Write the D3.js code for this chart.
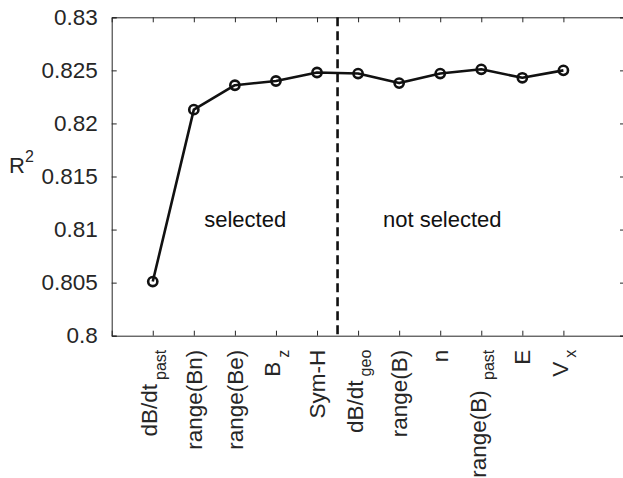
<!DOCTYPE html>
<html>
<head>
<meta charset="utf-8">
<script src="https://cdn.jsdelivr.net/npm/d3@7/dist/d3.min.js"></script>
<style>
  html, body { margin: 0; padding: 0; background: #fff; }
  svg { display: block; }
  text { font-family: "Liberation Sans", Arial, Helvetica, sans-serif; }
</style>
</head>
<body>
<svg id="chart" width="623" height="478"></svg>
<script>
// Feature names (main text + subscript) in the order they were added
const featureNames = ["dB/dt", "range(Bn)", "range(Be)", "B", "Sym-H", "dB/dt", "range(B)", "n", "range(B) ", "E", "V"];
const featureSubs  = ["past", "", "", "z", "", "geo", "", "", "past", "", "x"];

// R² after adding each feature
const r2Values = [0.8051, 0.8213, 0.8236, 0.8240, 0.8248, 0.8247, 0.8238, 0.8247, 0.8251, 0.8243, 0.8250];

// y-axis ticks
const yTickValues = [0.8, 0.805, 0.81, 0.815, 0.82, 0.825, 0.83];
const yTickLabels = ["0.8", "0.805", "0.81", "0.815", "0.82", "0.825", "0.83"];

// number of features kept by the selection
const nSelected = 5;
const groupLabels = ["selected", "not selected"];

const svg = d3.select("#chart");
const plotL = 111.7, plotR = 625, plotT = 17.3, plotB = 335.7;

const x = d3.scaleLinear().domain([0, 12.5]).range([plotL, plotR]);
const y = d3.scaleLinear().domain([0.8, 0.83]).range([plotB, plotT]);
const idx = d3.range(1, featureNames.length + 1);

const axisColor = "#262626";
const fontStack = "Liberation Sans, Arial, sans-serif";

// box axes with inward ticks
const gLeft = svg.append("g").attr("transform", `translate(${plotL},0)`)
  .call(d3.axisLeft(y).tickValues(yTickValues).tickFormat((d, i) => yTickLabels[i]).tickSize(-5).tickPadding(14));
const gRight = svg.append("g").attr("transform", `translate(${plotR},0)`)
  .call(d3.axisRight(y).tickValues(yTickValues).tickFormat("").tickSize(-5));
const gTop = svg.append("g").attr("transform", `translate(0,${plotT})`)
  .call(d3.axisTop(x).tickValues(idx).tickFormat("").tickSize(-5));
const gBottom = svg.append("g").attr("transform", `translate(0,${plotB})`)
  .call(d3.axisBottom(x).tickValues(idx).tickFormat("").tickSize(-5));

[gLeft, gRight, gTop, gBottom].forEach(g => {
  g.selectAll("path.domain").attr("stroke", axisColor).attr("stroke-width", 1);
  g.selectAll(".tick line").attr("stroke", axisColor).attr("stroke-width", 1);
});
gLeft.selectAll(".tick text")
  .attr("font-size", 22.5).attr("fill", axisColor)
  .attr("font-family", fontStack);

// rotated feature labels with subscripts
gBottom.selectAll(".tick").each(function (d, i) {
  const hasSub = featureSubs[i] !== "";
  const t = d3.select(this).append("text")
    .attr("transform", "rotate(-90)")
    .attr("x", -14)
    .attr("y", hasSub ? 4 : 7.5)
    .attr("text-anchor", "end")
    .attr("fill", axisColor)
    .attr("font-size", 22.5)
    .attr("font-family", fontStack)
    .style("white-space", "pre");
  t.append("tspan").text(featureNames[i]);
  if (hasSub) {
    t.append("tspan").attr("dx", 4).attr("dy", 8.5).attr("font-size", 16).text(featureSubs[i]);
  }
});

// y-axis title R²
const yt = svg.append("text").attr("x", 9).attr("y", 173)
  .attr("font-size", 22).attr("fill", axisColor).attr("font-family", fontStack);
yt.append("tspan").text("R");
yt.append("tspan").attr("dy", -11).attr("font-size", 16).text("2");

// divider between selected and not-selected features
svg.append("line")
  .attr("x1", x(nSelected + 0.5)).attr("x2", x(nSelected + 0.5))
  .attr("y1", plotT).attr("y2", plotB)
  .attr("stroke", "#111").attr("stroke-width", 2.6)
  .attr("stroke-dasharray", "9,5");

// R² curve
const line = d3.line().x((d, i) => x(i + 1)).y(d => y(d));
svg.append("path").datum(r2Values)
  .attr("d", line).attr("fill", "none")
  .attr("stroke", "#111").attr("stroke-width", 2.6).attr("stroke-linejoin", "round");

svg.selectAll("circle.pt").data(r2Values).join("circle")
  .attr("class", "pt")
  .attr("cx", (d, i) => x(i + 1)).attr("cy", d => y(d))
  .attr("r", 4.6).attr("fill", "none")
  .attr("stroke", "#111").attr("stroke-width", 2.6);

// group annotations
svg.append("text").attr("x", x((1 + nSelected) / 2 + 0.25)).attr("y", y(0.8102))
  .attr("text-anchor", "middle").attr("font-size", 22).attr("fill", "#111")
  .attr("font-family", fontStack)
  .text(groupLabels[0]);
svg.append("text").attr("x", x((nSelected + 1 + featureNames.length) / 2 - 0.45)).attr("y", y(0.8102))
  .attr("text-anchor", "middle").attr("font-size", 22).attr("fill", "#111")
  .attr("font-family", fontStack)
  .text(groupLabels[1]);
</script>
</body>
</html>
